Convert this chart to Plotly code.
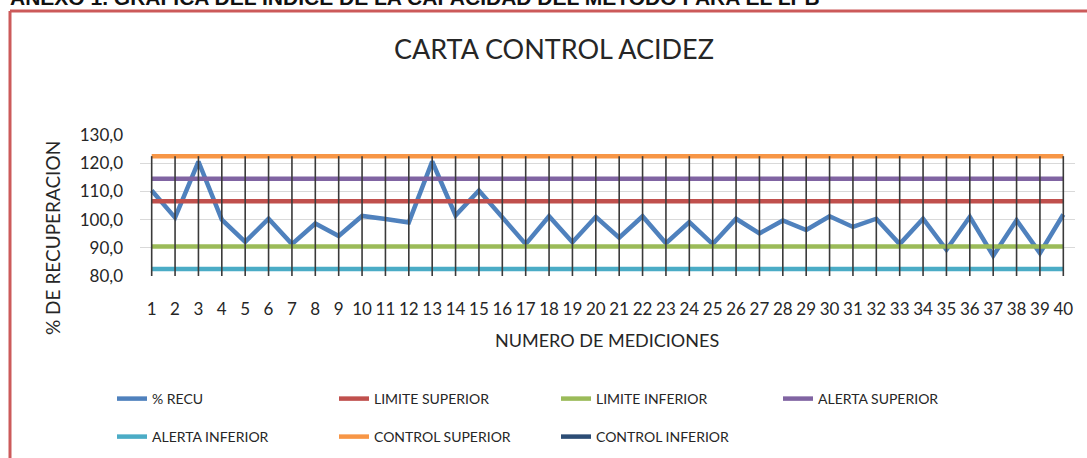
import plotly.graph_objects as go

# Measurements (1..40) and recovery percentage
mediciones = list(range(1, 41))
pct_recu = [110.3, 100.7, 120.6, 100.0, 92.1, 100.3, 91.3, 98.6, 94.2, 101.3,
            100.2, 99.0, 120.6, 101.5, 110.3, 100.8, 91.3, 101.2, 92.0, 101.0,
            93.6, 101.2, 91.6, 99.1, 91.3, 100.3, 95.1, 99.7, 96.3, 101.2,
            97.4, 100.3, 91.3, 100.3, 89.3, 101.0, 87.2, 99.8, 88.1, 101.8]

# Control-chart limits (mean 98.5, s = 8)
limite_superior = 106.5
limite_inferior = 90.5
alerta_superior = 114.5
alerta_inferior = 82.5
control_superior = 122.5
control_inferior = 74.5

y_min, y_max = 80, 130
y_ticks = [80, 90, 100, 110, 120, 130]

# plot-area geometry in pixels
W, H = 1087, 458
ML, MR, MT, MB = 140, 12, 135, 182
PW, PH = W - ML - MR, H - MT - MB


def px(x):
    return (x - ML) / PW


def py(y):
    return (H - MB - y) / PH


def cx(x):
    return x / W


def cy(y):
    return 1 - y / H


font_main = "Lato, 'Open Sans', sans-serif"
txt = "#262626"

fig = go.Figure()

series = [
    ("% RECU", pct_recu, "#4f81bd", "legend"),
    ("LIMITE SUPERIOR", [limite_superior] * len(mediciones), "#c0504d", "legend"),
    ("LIMITE INFERIOR", [limite_inferior] * len(mediciones), "#9bbb59", "legend"),
    ("ALERTA SUPERIOR", [alerta_superior] * len(mediciones), "#8064a2", "legend"),
    ("ALERTA INFERIOR", [alerta_inferior] * len(mediciones), "#4bacc6", "legend2"),
    ("CONTROL SUPERIOR", [control_superior] * len(mediciones), "#f79646", "legend2"),
    ("CONTROL INFERIOR", [control_inferior] * len(mediciones), "#2c4d75", "legend2"),
]

for name, vals, color, lg in series:
    fig.add_trace(go.Scatter(
        x=mediciones, y=vals, mode="lines", name=name,
        line=dict(color=color, width=4.5), legend=lg,
    ))

# drop lines from the highest series down to the category axis
top = [max(v) for v in zip(*[s[1] for s in series])]
dx, dy = [], []
for m, t in zip(mediciones, top):
    dx += [m, m, None]
    dy += [t, y_min, None]
fig.add_trace(go.Scatter(
    x=dx, y=dy, mode="lines", showlegend=False, hoverinfo="skip",
    line=dict(color="#3a3a3a", width=1.6),
))

legend_common = dict(
    orientation="h", xanchor="left", yanchor="middle",
    xref="container", yref="container",
    entrywidth=177, entrywidthmode="pixels",
    font=dict(size=14, family=font_main, color=txt),
    bgcolor="rgba(0,0,0,0)",
)

fig.update_layout(
    width=W, height=H,
    margin=dict(l=ML, r=MR, t=MT, b=MB, autoexpand=False),
    paper_bgcolor="white", plot_bgcolor="white",
    separators=",.",
    font=dict(family=font_main, color=txt),
    xaxis=dict(
        range=[0.5, 40.5], tickmode="array", tickvals=mediciones,
        ticktext=[str(m) for m in mediciones], showgrid=False,
        showline=False, zeroline=False, ticks="",
        tickfont=dict(size=17, family=font_main, color=txt),
        ticklabelstandoff=21,
    ),
    yaxis=dict(
        range=[y_min, y_max], tickvals=y_ticks, tickformat=".1f",
        showgrid=True, gridcolor="#d9d9d9", gridwidth=1,
        zeroline=False, showline=False, ticks="",
        tickfont=dict(size=17, family=font_main, color=txt),
        ticklabelstandoff=16,
    ),
    legend=dict(x=cx(112), y=cy(399), **legend_common),
    legend2=dict(x=cx(112), y=cy(437), **legend_common),
    showlegend=True,
)

# outer frame of the chart object: only its top and left edges fall in view
frame = dict(color="#cc5a5a", width=3)
fig.add_shape(type="line", xref="paper", yref="paper",
              x0=px(10), x1=px(1087), y0=py(11), y1=py(11), line=frame)
fig.add_shape(type="line", xref="paper", yref="paper",
              x0=px(10), x1=px(10), y0=py(11), y1=py(470), line=frame)

annotations = [
    dict(text="<b>ANEXO 1. GRAFICA DEL INDICE DE LA CAPACIDAD DEL METODO PARA EL LPB</b>",
         x=px(8), y=py(11), xanchor="left", yanchor="bottom",
         font=dict(size=21, family="'Liberation Sans', Arial, sans-serif", color="#111")),
    dict(text="CARTA CONTROL ACIDEZ", x=px(554), y=py(48),
         xanchor="center", yanchor="middle",
         font=dict(size=27, family=font_main, color=txt)),
    dict(text="% DE RECUPERACION", x=px(52), y=py(238), textangle=-90,
         xanchor="center", yanchor="middle",
         font=dict(size=19, family=font_main, color=txt)),
    dict(text="NUMERO DE MEDICIONES", x=px(607), y=py(340),
         xanchor="center", yanchor="middle",
         font=dict(size=18, family=font_main, color=txt)),
]
for a in annotations:
    fig.add_annotation(xref="paper", yref="paper", showarrow=False, **a)

fig.write_html("out.html")
